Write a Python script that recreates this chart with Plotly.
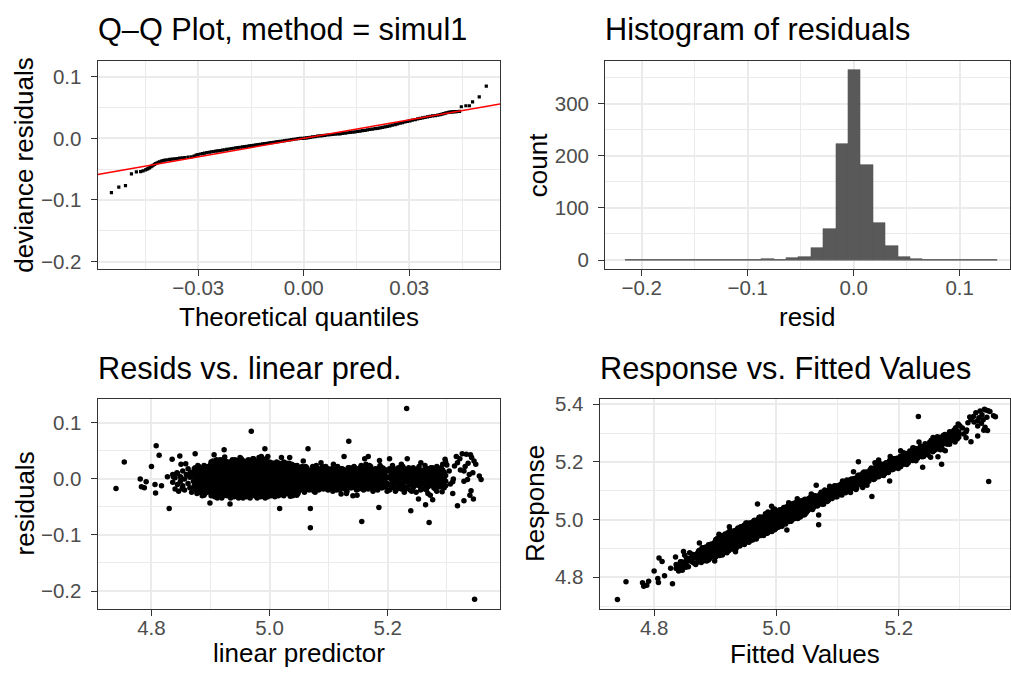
import plotly.graph_objects as go

# ---------------- data ----------------
# Q-Q plot: (theoretical quantile, deviance residual)
qq_points = [
    (-0.0547, -0.0882), (-0.0526, -0.0791), (-0.0507, -0.0769), (-0.0490, -0.0577),
    (-0.0476, -0.0545), (-0.0464, -0.0539), (-0.0457, -0.0529), (-0.0450, -0.0513),
    (-0.0446, -0.0502), (-0.0443, -0.0492), (-0.0439, -0.0479), (-0.0435, -0.0465),
    (-0.0432, -0.0452), (-0.0429, -0.0439), (-0.0425, -0.0425), (-0.0422, -0.0412),
    (-0.0418, -0.0401), (-0.0414, -0.0391), (-0.0410, -0.0380), (-0.0405, -0.0369),
    (-0.0400, -0.0361), (-0.0395, -0.0353), (-0.0388, -0.0348), (-0.0381, -0.0343),
    (-0.0374, -0.0338), (-0.0367, -0.0332), (-0.0360, -0.0327), (-0.0353, -0.0321),
    (-0.0345, -0.0316), (-0.0338, -0.0311), (-0.0329, -0.0306), (-0.0320, -0.0300),
    (-0.0312, -0.0290), (-0.0306, -0.0274), (-0.0301, -0.0262), (-0.0294, -0.0254),
    (-0.0288, -0.0247), (-0.0282, -0.0240), (-0.0275, -0.0233), (-0.0269, -0.0226),
    (-0.0263, -0.0219), (-0.0257, -0.0214), (-0.0250, -0.0208), (-0.0244, -0.0203),
    (-0.0238, -0.0198), (-0.0231, -0.0192), (-0.0225, -0.0187), (-0.0219, -0.0180),
    (-0.0212, -0.0173), (-0.0206, -0.0166), (-0.0200, -0.0161), (-0.0193, -0.0155),
    (-0.0187, -0.0150), (-0.0181, -0.0145), (-0.0174, -0.0139), (-0.0168, -0.0134),
    (-0.0162, -0.0129), (-0.0155, -0.0123), (-0.0149, -0.0118), (-0.0143, -0.0113),
    (-0.0136, -0.0107), (-0.0130, -0.0102), (-0.0124, -0.0097), (-0.0117, -0.0091),
    (-0.0111, -0.0086), (-0.0105, -0.0081), (-0.0098, -0.0075), (-0.0092, -0.0070),
    (-0.0086, -0.0065), (-0.0079, -0.0059), (-0.0073, -0.0054), (-0.0067, -0.0049),
    (-0.0060, -0.0043), (-0.0054, -0.0038), (-0.0048, -0.0033), (-0.0041, -0.0027),
    (-0.0035, -0.0022), (-0.0029, -0.0017), (-0.0022, -0.0011), (-0.0016, -0.0006),
    (-0.0010, -0.0002), (-0.0003, 0.0001), (0.0003, 0.0005), (0.0008, 0.0009),
    (0.0013, 0.0013), (0.0018, 0.0017), (0.0025, 0.0023), (0.0032, 0.0029),
    (0.0039, 0.0035), (0.0046, 0.0040), (0.0053, 0.0044), (0.0060, 0.0049),
    (0.0068, 0.0054), (0.0075, 0.0058), (0.0082, 0.0062), (0.0089, 0.0066),
    (0.0096, 0.0070), (0.0103, 0.0074), (0.0110, 0.0080), (0.0118, 0.0085),
    (0.0125, 0.0091), (0.0132, 0.0096), (0.0139, 0.0101), (0.0146, 0.0106),
    (0.0153, 0.0112), (0.0160, 0.0117), (0.0167, 0.0124), (0.0174, 0.0130),
    (0.0181, 0.0137), (0.0188, 0.0144), (0.0195, 0.0150), (0.0203, 0.0157),
    (0.0210, 0.0163), (0.0217, 0.0170), (0.0224, 0.0178), (0.0231, 0.0186),
    (0.0238, 0.0194), (0.0245, 0.0202), (0.0252, 0.0213), (0.0260, 0.0224),
    (0.0267, 0.0234), (0.0274, 0.0245), (0.0281, 0.0255), (0.0288, 0.0265),
    (0.0295, 0.0275), (0.0302, 0.0285), (0.0309, 0.0295), (0.0317, 0.0305),
    (0.0324, 0.0315), (0.0331, 0.0325), (0.0338, 0.0333), (0.0345, 0.0340),
    (0.0352, 0.0348), (0.0359, 0.0355), (0.0366, 0.0363), (0.0374, 0.0370),
    (0.0381, 0.0378), (0.0388, 0.0385), (0.0393, 0.0393), (0.0398, 0.0402),
    (0.0403, 0.0410), (0.0407, 0.0415), (0.0412, 0.0420), (0.0416, 0.0424),
    (0.0421, 0.0428), (0.0425, 0.0430), (0.0430, 0.0432), (0.0434, 0.0434),
    (0.0439, 0.0436), (0.0443, 0.0438), (0.0448, 0.0513), (0.0461, 0.0529),
    (0.0471, 0.0529), (0.0480, 0.0593), (0.0499, 0.0673), (0.0519, 0.0849),
]
qq_line_intercept = 0.0
qq_line_slope = 1.0

# Histogram of residuals: 30 bins
hist_bin_centers = [
    -0.2099, -0.1982, -0.1865, -0.1748, -0.1631, -0.1514, -0.1397, -0.1280,
    -0.1162, -0.1045, -0.0928, -0.0811, -0.0694, -0.0577, -0.0460, -0.0343,
    -0.0226, -0.0109, 0.0008, 0.0125, 0.0242, 0.0359, 0.0476, 0.0593,
    0.0710, 0.0828, 0.0945, 0.1062, 0.1179, 0.1296,
]
hist_counts = [1, 0, 0, 0, 0, 0, 0, 0, 0, 0, 0, 3, 0, 4, 5, 23,
               59, 223, 364, 183, 72, 27, 6, 3, 1, 1, 0, 0, 0, 1]
hist_bin_width = 0.01171

# Residuals vs linear predictor: isolated points (linear predictor, residual)
resid_sparse = [
    (4.740, -0.017), (4.754, 0.030), (4.781, 0.000), (4.783, -0.014), (4.788, -0.016),
    (4.791, -0.005), (4.800, 0.022), (4.806, -0.010), (4.807, -0.025), (4.808, 0.059),
    (4.813, 0.042), (4.817, -0.012), (4.827, 0.004), (4.830, -0.053), (4.835, 0.035),
    (4.837, 0.004), (4.843, 0.011), (4.848, 0.041), (4.850, 0.026), (4.852, -0.017),
    (4.858, 0.027), (4.866, 0.012), (4.874, 0.045), (4.884, -0.023), (4.889, -0.029),
    (4.899, -0.043), (4.901, 0.030), (4.906, 0.043), (4.911, 0.018), (4.923, 0.052),
    (4.924, 0.039), (4.933, -0.045), (4.947, 0.033), (4.950, 0.038), (4.969, 0.085),
    (4.986, 0.040), (4.992, 0.054), (5.017, -0.053), (5.020, 0.038), (5.034, 0.038),
    (5.057, 0.032), (5.065, 0.054), (5.069, -0.053), (5.069, -0.087), (5.087, 0.029),
    (5.108, 0.026), (5.126, 0.040), (5.130, -0.026), (5.134, 0.067), (5.148, -0.029),
    (5.156, -0.076), (5.161, 0.036), (5.167, 0.040), (5.185, -0.051), (5.186, 0.033),
    (5.203, 0.036), (5.223, 0.026), (5.232, 0.1256), (5.233, 0.036), (5.239, -0.057),
    (5.252, -0.036), (5.256, 0.029), (5.262, -0.017), (5.264, -0.046), (5.270, -0.078),
    (5.272, -0.029), (5.276, -0.037), (5.288, 0.018), (5.292, -0.023), (5.297, 0.035),
    (4.955, -0.031), (4.977, -0.030), (5.035, -0.031), (5.046, -0.029), (5.077, -0.024),
    (5.121, -0.027), (5.141, -0.030),
    (5.300, 0.025), (5.304, 0.014), (5.306, -0.009), (5.310, -0.005), (5.311, 0.000),
    (5.313, 0.023), (5.318, 0.029), (5.318, -0.048), (5.310, -0.026), (5.316, 0.040),
    (5.322, 0.036), (5.323, 0.016), (5.326, 0.045), (5.329, 0.014), (5.329, -0.004),
    (5.329, -0.039), (5.331, 0.022), (5.333, 0.044), (5.335, -0.001), (5.336, 0.028),
    (5.338, 0.008), (5.340, 0.043), (5.339, -0.029), (5.341, -0.021), (5.342, 0.038),
    (5.344, 0.011), (5.345, -0.036), (5.346, 0.032), (5.347, -0.2148), (5.349, 0.026),
    (5.355, 0.005), (5.358, -0.001),
]

# Residuals vs linear predictor: dense band, (linear predictor, [residuals])
resid_band = [
    (4.836, [-0.006, 0.008]), (4.840, [-0.018, 0.002]), (4.844, [0.010, -0.010]),
    (4.846, [-0.022]), (4.849, [0.004, -0.004]), (4.853, [0.014, -0.012]),
    (4.856, [-0.020, 0.000]), (4.859, [0.008]), (4.862, [-0.008, 0.018]),
    (4.865, [-0.016, 0.003]), (4.868, [0.010, -0.024]),
    (4.871, [-0.004, 0.012, -0.018]), (4.874, [0.006, -0.010, 0.020]),
    (4.877, [-0.002, -0.026, 0.014]), (4.880, [0.002, -0.014, 0.022]),
    (4.883, [-0.006, 0.010, -0.020]), (4.886, [0.004, -0.030, 0.016]),
    (4.889, [-0.010, 0.000, 0.024]), (4.892, [0.008, -0.018, -0.004]),
    (4.895, [0.014, -0.024, 0.002]), (4.898, [-0.008, 0.020, -0.014]),
    (4.901, [0.028, 0.010, -0.004, -0.018, -0.030]),
    (4.904, [0.020, 0.002, -0.010, -0.024, 0.032]),
    (4.907, [0.014, -0.002, -0.016, -0.032, 0.026]),
    (4.910, [0.006, -0.008, -0.022, 0.022, 0.034]),
    (4.913, [0.030, 0.012, -0.004, -0.020, -0.028]),
    (4.916, [0.018, 0.000, -0.012, -0.026, 0.034]),
    (4.919, [0.024, 0.006, -0.008, -0.018, -0.034]),
    (4.922, [0.012, -0.002, -0.014, -0.030, 0.028]),
    (4.925, [0.020, 0.004, -0.010, -0.022, 0.032]),
    (4.928, [0.026, 0.010, -0.006, -0.016, -0.030]),
    (4.931, [0.016, 0.000, -0.012, -0.026, 0.030]),
    (4.934, [0.022, 0.008, -0.004, -0.020, -0.034]),
    (4.937, [0.014, -0.002, -0.014, -0.028, 0.034]),
    (4.940, [0.028, 0.006, -0.008, -0.018, -0.032]),
    (4.943, [0.020, 0.002, -0.012, -0.024, 0.032]),
    (4.946, [0.012, -0.004, -0.016, -0.030, 0.026]),
    (4.949, [0.030, 0.010, -0.006, -0.020, -0.028]),
    (4.952, [0.018, 0.000, -0.010, -0.026, 0.036]),
    (4.955, [0.024, 0.006, -0.004, -0.018, -0.034]),
    (4.958, [0.014, -0.002, -0.014, -0.030, 0.030]),
    (4.961, [0.026, 0.008, -0.008, -0.022, -0.032]),
    (4.964, [0.020, 0.002, -0.012, -0.026, 0.034]),
    (4.967, [0.012, -0.006, -0.018, -0.034, 0.028]),
    (4.970, [0.030, 0.010, -0.002, -0.016, -0.028]),
    (4.973, [0.018, 0.004, -0.010, -0.024, 0.036]),
    (4.976, [0.024, 0.000, -0.014, -0.030, 0.032]),
    (4.979, [0.014, -0.004, -0.020, -0.034, 0.028]),
    (4.982, [0.026, 0.008, -0.008, -0.022, 0.038]),
    (4.985, [0.020, 0.002, -0.012, -0.026, -0.032]),
    (4.988, [0.012, -0.006, -0.016, -0.030, 0.034]),
    (4.991, [0.030, 0.010, -0.002, -0.020, -0.028]),
    (4.994, [0.018, 0.004, -0.010, -0.024, 0.036]),
    (4.997, [0.024, 0.000, -0.014, -0.032, 0.040]),
    (5.000, [0.014, -0.004, -0.018, -0.026, 0.030]),
    (5.003, [0.022, 0.006, -0.008, -0.022, -0.030]),
    (5.006, [0.016, 0.002, -0.012, -0.028, 0.028]),
    (5.009, [0.024, 0.008, -0.004, -0.018, -0.032]),
    (5.012, [0.010, -0.002, -0.014, -0.026, 0.030]),
    (5.015, [0.020, 0.004, -0.008, -0.022, -0.030]),
    (5.018, [0.014, 0.000, -0.012, -0.024, 0.026]),
    (5.021, [0.024, 0.008, -0.006, -0.018, -0.028]),
    (5.024, [0.012, -0.002, -0.014, -0.030, 0.030]),
    (5.027, [0.018, 0.004, -0.008, -0.020]), (5.030, [0.022, 0.000, -0.012, -0.026]),
    (5.033, [0.010, -0.004, -0.018, 0.028]), (5.036, [0.016, 0.006, -0.008, -0.024]),
    (5.039, [0.020, 0.002, -0.012, -0.030]), (5.042, [0.012, -0.006, -0.016, 0.024]),
    (5.045, [0.018, 0.004, -0.008, -0.022]), (5.048, [0.014, 0.000, -0.012, -0.026]),
    (5.051, [0.016, 0.002, -0.010, -0.020]), (5.055, [0.010, -0.004, -0.016, 0.022]),
    (5.059, [0.018, 0.004, -0.008, -0.024]), (5.063, [0.012, -0.002, -0.014, 0.020]),
    (5.067, [0.008, 0.000, -0.010, -0.020]), (5.071, [0.016, 0.004, -0.006, -0.016]),
    (5.075, [0.020, -0.002, -0.012, -0.022]), (5.079, [0.010, 0.002, -0.008, 0.024]),
    (5.083, [0.014, -0.004, -0.014, -0.020]), (5.087, [0.006, 0.000, -0.010, 0.018]),
    (5.091, [0.016, 0.004, -0.006, -0.018]), (5.095, [0.010, -0.002, -0.012, 0.022]),
    (5.099, [0.018, 0.002, -0.008, -0.020]), (5.103, [0.008, -0.004, -0.014, 0.014]),
    (5.107, [0.012, 0.000, -0.010, -0.022]), (5.111, [0.018, 0.004, -0.006, -0.016]),
    (5.115, [0.010, -0.002, -0.012, 0.022]), (5.119, [0.014, 0.002, -0.008, -0.020]),
    (5.123, [0.006, -0.004, -0.014, 0.018]), (5.127, [0.016, 0.000, -0.010, -0.018]),
    (5.131, [0.010, 0.004, -0.006, -0.022]), (5.135, [0.020, -0.002, -0.012, 0.012]),
    (5.139, [0.008, 0.002, -0.008, -0.016]), (5.143, [0.014, -0.004, -0.014, 0.022]),
    (5.147, [0.018, 0.000, -0.010, -0.020]), (5.151, [0.010, 0.004, -0.006, -0.018]),
    (5.155, [0.016, -0.002, -0.012, 0.024]), (5.159, [0.006, 0.002, -0.008, -0.020]),
    (5.163, [0.012, -0.004, -0.014, 0.026]), (5.167, [0.018, 0.000, -0.010, -0.018]),
    (5.171, [0.010, 0.004, -0.006, 0.022]), (5.175, [0.014, -0.002, -0.012, -0.022]),
    (5.179, [0.008, 0.002, -0.008, 0.018]), (5.183, [0.016, -0.004, -0.014, -0.020]),
    (5.187, [0.012, 0.000, -0.010, 0.024]), (5.191, [0.020, 0.004, -0.006, -0.016]),
    (5.195, [0.008, -0.002, -0.012, 0.014]), (5.199, [0.014, 0.002, -0.008, -0.022]),
    (5.203, [0.018, 0.004, -0.010, -0.020]), (5.208, [0.010, -0.004, -0.016, 0.024]),
    (5.213, [0.016, 0.002, -0.008, -0.022]), (5.218, [0.006, -0.002, -0.014, 0.020]),
    (5.223, [0.012, 0.004, -0.010, -0.018]), (5.228, [0.018, 0.000, -0.006, -0.024]),
    (5.233, [0.008, -0.004, -0.014, 0.014]), (5.238, [0.014, 0.002, -0.010, -0.020]),
    (5.243, [0.020, -0.002, -0.016, 0.006]), (5.248, [0.010, 0.004, -0.008, -0.024]),
    (5.253, [0.016, 0.000, -0.012, 0.022]), (5.258, [0.006, -0.004, -0.018]),
    (5.263, [0.012, 0.002, -0.010, 0.024]), (5.268, [0.018, -0.002, -0.014, -0.026]),
    (5.273, [0.008, 0.000, -0.008, 0.020]), (5.278, [0.014, -0.004, -0.016]),
    (5.283, [0.004, -0.010, 0.022, -0.022]), (5.288, [0.010, -0.002, -0.014]),
    (5.293, [0.016, 0.002, -0.008, 0.026]), (5.298, [0.006, -0.004, -0.012, 0.030]),
]

# more points inside the dense band, (linear predictor, [residuals])
resid_band_extra = [
    (4.8725, [0.004, -0.012, 0.018]), (4.8755, [-0.020, 0.010, -0.004]),
    (4.8785, [0.008, -0.008, 0.024]), (4.8815, [-0.024, 0.004, 0.016]),
    (4.8845, [-0.002, -0.014, 0.020]), (4.8875, [0.010, -0.022, 0.006]),
    (4.8905, [-0.006, 0.016, -0.026]), (4.8935, [0.002, -0.012, 0.022]),
    (4.8965, [-0.018, 0.008, -0.002]),
    (4.8995, [0.024, -0.002, -0.020, 0.010]), (4.9025, [0.016, -0.014, 0.004, -0.026]),
    (4.9055, [0.030, 0.008, -0.006, -0.020]), (4.9085, [0.018, -0.004, -0.028, 0.000]),
    (4.9115, [0.024, -0.012, 0.002, -0.034]), (4.9145, [0.006, -0.018, 0.022, -0.008]),
    (4.9175, [0.028, 0.010, -0.022, -0.002]), (4.9205, [0.016, -0.010, 0.034, -0.024]),
    (4.9235, [0.008, -0.020, 0.024, -0.004]), (4.9265, [0.014, -0.002, -0.028, 0.030]),
    (4.9295, [0.020, 0.004, -0.020, -0.010]), (4.9325, [0.028, -0.008, 0.012, -0.030]),
    (4.9355, [0.004, -0.016, 0.018, 0.030]), (4.9385, [0.024, -0.010, 0.000, -0.024]),
    (4.9415, [0.014, -0.004, -0.028, 0.034]), (4.9445, [0.026, 0.008, -0.018, -0.006]),
    (4.9475, [0.018, -0.012, 0.002, -0.034]), (4.9505, [0.022, 0.004, -0.022, -0.014]),
    (4.9535, [0.028, -0.008, 0.010, -0.030]), (4.9565, [0.012, -0.016, 0.032, 0.000]),
    (4.9595, [0.022, 0.002, -0.024, -0.008]), (4.9625, [0.016, -0.006, 0.032, -0.018]),
    (4.9655, [0.026, 0.006, -0.030, -0.004]), (4.9685, [0.020, -0.010, 0.002, -0.024]),
    (4.9715, [0.024, 0.000, -0.020, 0.036]), (4.9745, [0.010, -0.006, -0.030, 0.028]),
    (4.9775, [0.020, 0.006, -0.010, -0.024]), (4.9805, [0.030, -0.002, -0.016, 0.008]),
    (4.9835, [0.014, -0.008, 0.032, -0.030]), (4.9865, [0.026, 0.004, -0.020, -0.004]),
    (4.9895, [0.020, -0.010, 0.006, -0.026]), (4.9925, [0.024, 0.000, -0.014, -0.034]),
    (4.9955, [0.010, -0.006, 0.030, -0.020]), (4.9985, [0.020, 0.006, -0.010, -0.030]),
    (5.0015, [0.026, -0.002, -0.016, 0.010]), (5.0045, [0.012, -0.012, 0.028, -0.026]),
    (5.0075, [0.018, 0.000, -0.020, -0.008]), (5.0105, [0.026, 0.004, -0.010, -0.024]),
    (5.0135, [0.016, -0.008, 0.024, -0.018]), (5.0165, [0.010, -0.002, -0.016, 0.028]),
    (5.0195, [0.020, 0.004, -0.020, -0.006]), (5.0225, [0.016, -0.010, 0.002, -0.026]),
    (5.0255, [0.024, 0.006, -0.004, -0.016]), (5.0285, [0.010, -0.002, -0.026, 0.028]),
    (5.0315, [0.016, 0.004, -0.006, -0.020]), (5.0345, [0.022, -0.002, -0.016, 0.008]),
    (5.0375, [0.010, -0.012, -0.026, 0.026]), (5.0405, [0.016, 0.004, -0.020, -0.004]),
    (5.0435, [0.022, 0.000, -0.010, -0.028]), (5.0465, [0.008, -0.004, -0.016, 0.024]),
    (5.0495, [0.020, 0.006, -0.006, -0.022]),
    (5.053, [0.006, -0.006, -0.018, 0.020]), (5.057, [0.014, 0.000, -0.012]),
    (5.061, [0.008, -0.006, -0.018, 0.022]), (5.065, [0.016, 0.004, -0.004]),
    (5.069, [0.012, -0.006, -0.016]), (5.073, [0.008, 0.000, -0.010, 0.022]),
    (5.077, [0.014, 0.004, -0.016]), (5.081, [0.006, -0.004, -0.010, 0.018]),
    (5.085, [0.016, 0.002, -0.018]), (5.089, [0.010, -0.004, -0.014, 0.022]),
    (5.093, [0.012, 0.000, -0.008]), (5.097, [0.006, -0.006, -0.018, 0.016]),
    (5.101, [0.012, 0.004, -0.012]), (5.105, [0.018, 0.002, -0.006, -0.018]),
    (5.109, [0.008, -0.006, -0.014]), (5.113, [0.014, 0.000, -0.010, -0.020]),
    (5.117, [0.006, 0.004, -0.016]), (5.121, [0.018, -0.002, -0.010]),
    (5.125, [0.010, 0.002, -0.006, -0.016]), (5.129, [0.014, -0.004, -0.014]),
    (5.133, [0.006, 0.000, -0.008, 0.020]), (5.137, [0.014, 0.004, -0.016]),
    (5.141, [0.010, -0.002, -0.012, 0.020]), (5.145, [0.006, 0.002, -0.006]),
    (5.149, [0.014, -0.004, -0.016]), (5.153, [0.008, 0.000, -0.010, 0.020]),
    (5.157, [0.012, 0.004, -0.014]), (5.161, [0.018, -0.002, -0.008, -0.018]),
    (5.165, [0.006, 0.002, -0.012]), (5.169, [0.014, -0.004, -0.016, 0.024]),
    (5.173, [0.008, 0.000, -0.010]), (5.177, [0.016, 0.004, -0.006, -0.018]),
    (5.181, [0.010, -0.002, -0.012]), (5.185, [0.006, 0.002, -0.008, 0.020]),
    (5.189, [0.014, -0.004, -0.016]), (5.193, [0.010, 0.000, -0.010, 0.018]),
    (5.197, [0.016, 0.004, -0.014]),
    (5.2055, [0.012, 0.000, -0.012]), (5.2105, [0.004, -0.010, 0.018]),
    (5.2155, [0.010, -0.004, -0.018]), (5.2205, [0.016, 0.002, -0.006]),
    (5.2255, [0.008, -0.012, 0.022]), (5.2305, [0.012, 0.002, -0.018]),
    (5.2355, [0.020, 0.006, -0.006]), (5.2405, [0.008, -0.008, -0.022]),
    (5.2455, [0.014, 0.000, -0.012]), (5.2505, [0.004, -0.006, 0.018]),
    (5.2555, [0.010, -0.010, -0.020]), (5.2605, [0.016, 0.004, -0.006]),
    (5.2655, [0.008, -0.006, -0.020]), (5.2705, [0.014, 0.002, -0.012]),
    (5.2755, [0.004, -0.008, 0.020]), (5.2805, [0.010, -0.002, -0.018]),
    (5.2855, [0.016, 0.004, -0.006]), (5.2905, [0.008, -0.006, 0.020]),
    (5.2955, [0.012, 0.000, -0.016]),
]

# ---------------- assemble ----------------
qq_x = [p[0] for p in qq_points]
qq_y = [p[1] for p in qq_points]

lin_pred = [p[0] for p in resid_sparse]
resids = [p[1] for p in resid_sparse]
for lp, rs in resid_band + resid_band_extra:
    for r in rs:
        lin_pred.append(lp)
        resids.append(r)
# Gaussian identity link: response = fitted value + residual
fitted = lin_pred
response = [f + r for f, r in zip(fitted, resids)]

W, H = 1011, 673
FONT = "Liberation Sans, Arial, Helvetica, sans-serif"
TICK_FONT = dict(family=FONT, size=20.5, color="#4D4D4D")


def fx(p):
    return p / W


def fy(p):
    return 1 - p / H


P1 = dict(l=97.7, r=500.0, t=55.7, b=267.0)
P2 = dict(l=605.3, r=1009.5, t=55.7, b=267.0)
P3 = dict(l=97.7, r=500.0, t=398.3, b=611.0)
P4 = dict(l=599.7, r=1009.5, t=398.3, b=611.0)

qq_xrange = [-0.0586, 0.0558]
res_yrange = [-0.2128, 0.1256]

fig = go.Figure()

fig.add_trace(go.Scatter(x=qq_x, y=qq_y, mode="markers", xaxis="x", yaxis="y",
                         marker=dict(symbol="square", size=3.2, color="black"),
                         showlegend=False, hoverinfo="skip"))
fig.add_trace(go.Scatter(x=qq_xrange,
                         y=[qq_line_intercept + qq_line_slope * v for v in qq_xrange],
                         mode="lines", xaxis="x", yaxis="y",
                         line=dict(color="#FF0000", width=1.6),
                         showlegend=False, hoverinfo="skip"))

edges = [hist_bin_centers[0] - hist_bin_width / 2, hist_bin_centers[-1] + hist_bin_width / 2]
fig.add_trace(go.Scatter(x=edges, y=[0, 0], mode="lines", xaxis="x2", yaxis="y2",
                         line=dict(color="#595959", width=1.1),
                         showlegend=False, hoverinfo="skip"))
fig.add_trace(go.Bar(x=hist_bin_centers, y=hist_counts, width=hist_bin_width,
                     xaxis="x2", yaxis="y2",
                     marker=dict(color="#595959", line=dict(color="#595959", width=0.6)),
                     showlegend=False, hoverinfo="skip"))

fig.add_trace(go.Scatter(x=lin_pred, y=resids, mode="markers", xaxis="x3", yaxis="y3",
                         marker=dict(size=5.5, color="black"),
                         showlegend=False, hoverinfo="skip"))
fig.add_trace(go.Scatter(x=fitted, y=response, mode="markers", xaxis="x4", yaxis="y4",
                         marker=dict(size=5.5, color="black"),
                         showlegend=False, hoverinfo="skip"))

LINE_C = "#333333"


def axis(domain, rng, tick0, dtick, fmt, anchor, is_y):
    return dict(domain=domain, range=rng, anchor=anchor,
                tickmode="linear", tick0=tick0, dtick=dtick, tickformat=fmt,
                showline=True, mirror=True, linecolor=LINE_C, linewidth=1.4,
                ticks="", ticklabelstandoff=(11 if is_y else 0),
                showgrid=True, gridcolor="#EBEBEB", gridwidth=1.5,
                minor=dict(showgrid=True, gridcolor="#EBEBEB", gridwidth=0.8,
                           tick0=tick0, dtick=dtick / 2, ticks=""),
                zeroline=False, tickfont=TICK_FONT, fixedrange=True)


def tick_axis(domain, rng, tick0, dtick, overlaying, anchor):
    # axis that only draws the outside tick marks (labels live on the main axis)
    return dict(domain=domain, range=rng, anchor=anchor, overlaying=overlaying,
                tickmode="linear", tick0=tick0, dtick=dtick,
                ticks="outside", ticklen=6, tickwidth=1.4, tickcolor=LINE_C,
                showticklabels=False, showgrid=False, zeroline=False,
                showline=False, fixedrange=True)


specs = [
    # (panel, x range, x tick0, x dtick, x fmt, y range, y tick0, y dtick, y fmt)
    (P1, qq_xrange, 0, 0.03, ".2f", res_yrange, 0, 0.1, ".1f"),
    (P2, [-0.2343, 0.1470], 0, 0.1, ".1f", [-18, 382], 0, 100, "d"),
    (P3, [4.709, 5.390], 4.8, 0.2, ".1f", [-0.2318, 0.1426], 0, 0.1, ".1f"),
    (P4, [4.711, 5.381], 4.8, 0.2, ".1f", [4.6904, 5.4185], 4.8, 0.2, ".1f"),
]
layout = dict(
    width=W, height=H, margin=dict(l=0, r=0, t=0, b=0),
    paper_bgcolor="white", plot_bgcolor="white", bargap=0,
    font=dict(family=FONT, color="black"),
)
for i, (P, xr, xt0, xdt, xf, yr, yt0, ydt, yf) in enumerate(specs, start=1):
    sfx = "" if i == 1 else str(i)
    xd = [fx(P["l"]), fx(P["r"])]
    yd = [fy(P["b"]), fy(P["t"])]
    layout["xaxis" + sfx] = axis(xd, xr, xt0, xdt, xf, "y" + sfx, False)
    layout["yaxis" + sfx] = axis(yd, yr, yt0, ydt, yf, "x" + sfx, True)
    j = str(i + 4)
    layout["xaxis" + j] = tick_axis(xd, xr, xt0, xdt, "x" + sfx, "y" + sfx)
    layout["yaxis" + j] = tick_axis(yd, yr, yt0, ydt, "y" + sfx, "x" + sfx)
    # empty traces so that the tick-only axes are instantiated
    fig.add_trace(go.Scatter(x=[], y=[], xaxis="x" + j, yaxis="y" + sfx,
                             mode="markers", showlegend=False, hoverinfo="skip"))
    fig.add_trace(go.Scatter(x=[], y=[], xaxis="x" + sfx, yaxis="y" + j,
                             mode="markers", showlegend=False, hoverinfo="skip"))
fig.update_layout(**layout)

TITLE = 30.7
AXT = 26


def ann(text, x, y, size, xanchor="left", angle=0):
    fig.add_annotation(text=text, x=fx(x), y=fy(y), xref="paper", yref="paper",
                       xanchor=xanchor, yanchor="middle", showarrow=False,
                       textangle=angle, font=dict(family=FONT, size=size, color="black"))


ann("Q\u2013Q Plot, method = simul1", P1["l"] - 2, 23.5, TITLE)
ann("Histogram of residuals", P2["l"] - 2, 23.5, TITLE)
ann("Resids vs. linear pred.", P3["l"] - 2, 367.5, TITLE)
ann("Response vs. Fitted Values", P4["l"] - 2, 367.5, TITLE)

ann("Theoretical quantiles", (P1["l"] + P1["r"]) / 2, 315, AXT, "center")
ann("resid", (P2["l"] + P2["r"]) / 2, 315, AXT, "center")
ann("linear predictor", (P3["l"] + P3["r"]) / 2, 655.5, AXT, "center")
ann("Fitted Values", (P4["l"] + P4["r"]) / 2, 656.5, AXT, "center")

ann("deviance residuals", 24.5, (P1["t"] + P1["b"]) / 2, AXT, "center", -90)
ann("count", 538, (P2["t"] + P2["b"]) / 2, AXT, "center", -90)
ann("residuals", 24.5, (P3["t"] + P3["b"]) / 2, AXT, "center", -90)
ann("Response", 535, (P4["t"] + P4["b"]) / 2, AXT, "center", -90)

fig.write_html("out.html")
